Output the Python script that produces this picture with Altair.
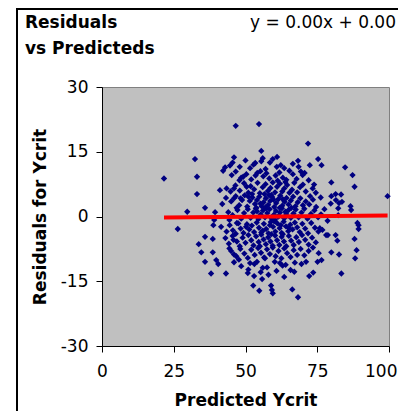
import altair as alt
import pandas as pd

# ---- data ----
outer_x = [21.6, 26.4, 29.7, 32.4, 33.1, 33.1, 35.9, 33.7, 34.6, 35.9, 35.9, 38.0, 38.6, 38.6, 39.8, 40.5,
           39.4, 39.1, 41.1, 41.5, 41.9, 42.2, 42.9, 43.2, 43.4, 43.2, 43.4, 46.0, 46.6, 44.6, 45.2, 46.6,
           46.0, 46.6, 46.9, 44.4, 44.4, 45.8, 46.0, 46.0, 47.7, 46.6, 47.5, 47.9, 49.2, 48.3, 50.4, 50.2,
           50.8, 51.6, 52.7, 53.1, 54.7, 55.5, 53.4, 51.6, 54.1, 55.5, 54.8, 55.3, 56.0, 56.8, 58.9, 59.2,
           59.5, 59.5, 60.9, 62.3, 60.2, 62.9, 68.3, 65.3, 65.7, 66.3, 67.2, 68.3, 69.3, 69.9, 71.8, 72.4,
           72.0, 72.5, 71.1, 72.2, 73.6, 75.3, 76.5, 73.9, 73.4, 76.2, 75.9, 75.5, 75.1, 76.5, 76.8, 77.5,
           78.1, 78.7, 78.6, 79.7, 79.9, 79.9, 79.9, 81.4, 82.0, 82.6, 83.3, 82.3, 82.3, 81.5, 83.4, 84.7,
           86.6, 86.8, 87.3, 88.0, 88.0, 88.7, 88.2, 89.4, 89.4, 89.0, 99.5, 38.8, 81.4, 83.6, 82.6]
outer_y = [8.8, -2.9, 1.1, 13.3, 9.2, 5.2, 2.0, -6.4, -8.3, -4.7, -10.5, -13.2, -5.2, -8.3, -10.1, -11.0,
           1.0, -0.8, 6.1, -2.4, 2.9, 10.6, 11.4, 4.3, 6.5, -13.2, -3.5, 13.7, 21.0, 11.8, 9.6, 10.4,
           6.5, 4.7, 2.0, -0.8, -7.4, -5.4, -8.8, -10.6, -10.0, -4.0, -1.6, 8.4, 9.2, 4.2, 6.9, -2.4,
           -13.1, -10.8, -16.0, -11.0, 21.4, 15.2, 12.4, 11.2, 10.1, 12.8, -17.2, -12.9, -11.9, -9.7, -16.0, -17.0,
           -17.8, 13.3, 11.5, 11.9, -10.5, -11.4, 12.9, 10.6, -12.4, -16.9, -10.7, -18.7, 10.4, 9.6, 16.9, 11.9,
           8.4, 4.7, -10.5, -13.8, -13.0, 13.3, 11.9, 7.4, 6.5, 4.4, -2.7, -8.5, -10.5, -10.1, -3.1, 1.7,
           -4.3, -4.3, -1.0, 3.0, 7.9, 4.7, -8.3, -4.3, -5.6, -8.8, 5.1, 1.9, 0.3, 3.8, -13.2, 11.4,
           2.4, 1.5, 9.6, 6.9, -5.2, -7.8, -9.7, -2.0, -2.9, -1.5, 4.7, -2.0, 5.2, 3.4, 3.1]

core_x = [48.5, 50.3, 52.0, 53.5, 56.2, 57.3, 58.3, 60.5, 61.8, 63.0, 64.2, 66.5, 67.8, 70.6, 61.2, 55.2,
          44.8, 46.5, 48.0, 49.5, 51.0, 51.8, 53.0, 54.2, 55.0, 56.0, 57.0, 57.8, 58.7, 59.5, 60.3, 61.0,
          62.0, 62.8, 63.5, 64.5, 65.3, 66.2, 67.0, 68.0, 69.0, 70.0, 71.0, 74.5, 52.3, 59.0, 63.9, 56.6,
          45.0, 46.0, 47.8, 48.8, 49.7, 50.6, 51.5, 52.4, 53.3, 54.0, 54.8, 55.6, 56.3, 57.1, 57.9, 58.6,
          59.3, 60.0, 60.7, 61.4, 62.1, 62.8, 63.6, 64.3, 65.0, 65.8, 66.6, 67.4, 68.2, 69.1, 70.0, 71.0,
          72.2, 73.5, 74.6, 56.9, 59.8, 61.9, 58.2, 55.2, 63.0, 66.0, 53.8, 51.0,
          44.0, 45.5, 47.2, 48.5, 49.5, 50.8, 51.8, 52.7, 53.6, 54.5, 55.3, 56.1, 56.8, 57.6, 58.4, 59.1,
          59.9, 60.6, 61.3, 62.0, 62.7, 63.5, 64.2, 65.0, 65.8, 66.7, 67.5, 68.5, 69.5, 70.5, 71.6, 72.8,
          74.0, 75.3, 76.3, 57.2, 61.7, 54.0, 60.2, 63.9]
core_y = [9.0, 9.8, 8.6, 9.5, 9.3, 10.0, 8.8, 9.5, 10.2, 9.0, 8.5, 9.8, 8.7, 10.1, 8.3, 10.5,
          5.8, 7.2, 6.0, 7.7, 5.5, 7.0, 6.3, 7.8, 5.4, 6.8, 7.5, 5.9, 6.6, 7.9, 5.6, 6.9,
          7.6, 5.8, 6.5, 7.3, 5.5, 6.2, 7.8, 5.6, 6.8, 7.4, 5.8, 5.5, 5.2, 5.0, 8.0, 5.2,
          3.5, 4.2, 2.6, 3.8, 4.9, 2.3, 3.6, 4.4, 2.9, 3.8, 4.6, 2.4, 3.3, 4.2, 2.7, 3.6,
          4.5, 2.2, 3.1, 4.0, 4.8, 2.5, 3.4, 4.3, 2.8, 3.7, 4.6, 2.4, 3.3, 4.2, 2.6, 3.5,
          2.8, 3.9, 2.2, 2.1, 3.9, 2.0, 4.9, 3.0, 4.0, 2.0, 2.0, 4.6,
          1.0, 0.3, 1.5, -0.5, 0.8, 1.7, -0.3, 0.9, 1.8, -0.6, 0.5, 1.4, -0.2, 0.8, 1.7, -0.5,
          0.4, 1.3, -0.1, 0.9, 1.9, -0.4, 0.6, 1.5, -0.3, 0.7, 1.6, -0.2, 0.9, 1.8, -0.5, 0.6,
          1.4, -0.2, 0.5, 1.9, 0.2, 1.2, -0.8, 1.1]

low_x = [44.5, 45.6, 47.0, 48.3, 49.3, 50.5, 51.3, 52.2, 53.0, 53.9, 54.7, 55.5, 56.4, 57.2, 58.0, 58.8,
         59.6, 60.4, 61.1, 61.9, 62.6, 63.3, 64.1, 64.9, 65.6, 66.4, 67.2, 68.0, 68.9, 69.8, 70.8, 71.8,
         72.9, 74.2, 75.4, 56.0, 60.0, 62.3, 58.5, 65.2,
         43.0, 44.2, 45.5, 47.0, 48.0, 49.0, 50.0, 51.0, 52.0, 52.8, 53.7, 54.6, 55.5, 56.3, 57.1, 57.9,
         58.7, 59.5, 60.3, 61.0, 61.8, 62.6, 63.4, 64.2, 65.1, 65.9, 66.8, 67.7, 68.6, 69.7, 70.8, 72.0,
         73.2, 74.5, 59.0, 55.0, 63.0,
         45.0, 46.8, 48.2, 49.6, 50.8, 52.0, 53.2, 54.4, 55.4, 56.5, 57.5, 58.5, 59.5, 60.5, 61.5, 62.5,
         63.5, 64.5, 65.7, 66.8, 68.0, 69.2, 70.5, 72.0, 73.5,
         48.5, 51.0, 54.0, 57.5, 60.8, 64.0, 67.0, 69.5, 58.0, 62.0, 55.8, 53.0, 63.5,
         45.5, 48.0, 50.0, 52.8, 57.0, 58.5, 63.5, 66.5, 68.5, 61.0, 56.0]
low_y = [-2.0, -3.2, -1.5, -2.8, -3.8, -1.8, -3.0, -2.1, -3.6, -1.4, -2.6, -3.7, -1.7, -2.9, -3.9, -1.3,
         -2.4, -3.5, -1.6, -2.7, -3.8, -1.2, -2.3, -3.4, -1.9, -3.0, -1.4, -2.5, -3.6, -1.7, -2.8, -3.9,
         -1.5, -2.6, -3.5, -3.3, -1.1, -2.0, -2.0, -2.7,
         -5.0, -6.3, -4.5, -5.8, -6.9, -4.9, -6.1, -4.3, -5.5, -6.7, -4.6, -5.9, -4.2, -5.3, -6.4, -4.8,
         -5.8, -6.8, -4.4, -5.5, -6.6, -4.7, -5.8, -6.9, -4.5, -5.6, -6.6, -4.8, -5.9, -4.3, -5.4, -6.5,
         -4.9, -6.0, -4.1, -6.9, -4.1,
         -8.0, -9.2, -7.5, -8.6, -9.6, -7.7, -8.9, -7.3, -8.4, -9.5, -7.6, -8.7, -7.2, -9.2, -8.0, -9.7,
         -7.4, -8.5, -9.4, -7.8, -8.9, -7.5, -9.0, -8.0, -7.2,
         -11.5, -12.3, -10.5, -11.8, -12.6, -11.2, -12.8, -11.0, -13.5, -10.8, -14.5, -13.8, -14.0,
         12.5, 11.5, 13.0, 12.0, 11.0, 12.5, 11.2, 12.2, 11.5, 13.8, 13.5]

trend_x = [21.6, 99.5]
trend_y = [-0.25, 0.25]
x_ticks = [0, 25, 50, 75, 100]
y_ticks = [-30, -15, 0, 15, 30]
header_lines = ["Residuals", "vs Predicteds"]
equation = ["y = 0.00x + 0.00"]

FONT = "DejaVu Sans"
ASCII_MINUS = "datum.value < 0 ? '-' + abs(datum.value) : '' + datum.value"

pts = pd.DataFrame({"x": outer_x + core_x + low_x, "y": outer_y + core_y + low_y})
trend = pd.DataFrame({"x": trend_x, "y": trend_y})

xs = alt.Scale(domain=[0, 100], nice=False, zero=False)
ys = alt.Scale(domain=[-30, 30], nice=False)

xax = alt.Axis(
    values=x_ticks, title="Predicted Ycrit", grid=False, labelPadding=11,
    titlePadding=13, labelFlush=False, labelExpr=ASCII_MINUS,
    labelAlign={"condition": {"test": "datum.value == 100", "value": "right"}, "value": "center"},
    labelOffset={"condition": {"test": "datum.value == 100", "value": 8}, "value": 0},
)
yax = alt.Axis(values=y_ticks, title="Residuals for Ycrit", grid=False, labelPadding=8,
               titlePadding=11, labelExpr=ASCII_MINUS)

points = alt.Chart(pts).mark_point(shape="diamond", filled=True, size=40, color="#000080",
                                   opacity=1).encode(
    x=alt.X("x:Q", scale=xs, axis=xax),
    y=alt.Y("y:Q", scale=ys, axis=yax),
)

line = alt.Chart(trend).mark_line(color="#FF0000", strokeWidth=4).encode(
    x=alt.X("x:Q", scale=xs), y=alt.Y("y:Q", scale=ys)
)

one = pd.DataFrame({"t": [0]})

border = alt.Chart(one).mark_rect(filled=False, stroke="black", strokeWidth=2).encode(
    x=alt.value(-85), x2=alt.value(330), y=alt.value(-78), y2=alt.value(345)
)

head = alt.Chart(pd.DataFrame({"t": [header_lines]})).mark_text(
    align="left", baseline="alphabetic", font=FONT, fontSize=17, fontWeight="bold",
    lineHeight=26, color="black"
).encode(text="t", x=alt.value(-77), y=alt.value(-59))

eq = alt.Chart(pd.DataFrame({"t": equation})).mark_text(
    align="right", baseline="alphabetic", font=FONT, fontSize=17, color="black"
).encode(text="t", x=alt.value(294), y=alt.value(-59))

chart = alt.layer(border, points, line, head, eq).properties(
    width=287, height=259,
    padding={"left": 94, "top": 79, "right": 9, "bottom": 65},
    autosize="none",
    background="white",
).configure_view(
    fill="#C0C0C0", stroke="#808080", strokeWidth=1
).configure_axis(
    domainColor="black", domainWidth=1, tickColor="black", tickSize=6,
    labelFont=FONT, labelFontSize=17, labelColor="black",
    titleFont=FONT, titleFontSize=17, titleFontWeight="bold", titleColor="black",
)

chart.save("out.html", embed_options={"renderer": "svg", "actions": False})
